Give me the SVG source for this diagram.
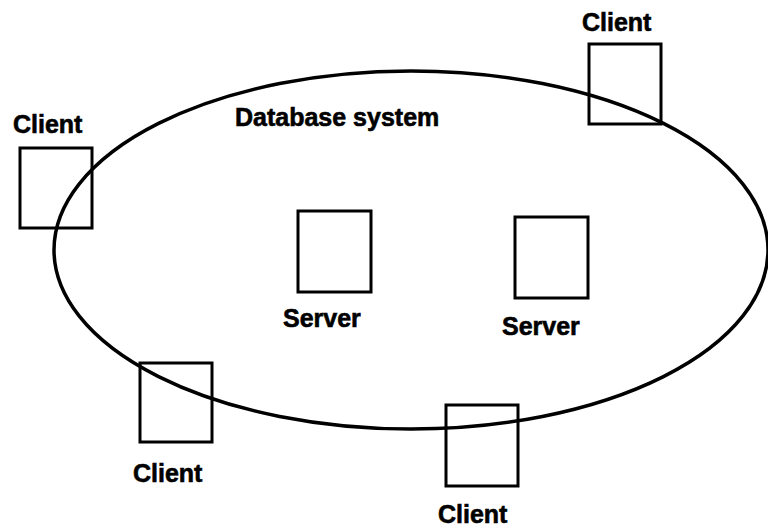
<svg xmlns="http://www.w3.org/2000/svg" width="768" height="532" viewBox="0 0 768 532">
<style>
.box{fill:none;stroke:#000;stroke-width:3}
.lbl{font-family:"Liberation Sans",Arial,sans-serif;font-weight:bold;font-size:25px;fill:#000;stroke:#000;stroke-width:0.6}
</style>
<rect width="768" height="532" fill="#fff"/>
<g id="database">
<ellipse cx="411" cy="250" rx="357" ry="179" fill="none" stroke="#000" stroke-width="3.5"/>
<text class="lbl" x="235" y="126" font-size="26.5">Database system</text>
</g>
<g id="server1">
<rect class="box" x="298" y="211" width="73" height="81"/>
<text class="lbl" x="283" y="327" font-size="26.5">Server</text>
</g>
<g id="server2">
<rect class="box" x="515" y="217" width="73" height="81"/>
<text class="lbl" x="502" y="335" font-size="26">Server</text>
</g>
<g id="client-topright">
<rect class="box" x="589" y="44" width="72" height="80"/>
<text class="lbl" x="582" y="31">Client</text>
</g>
<g id="client-left">
<rect class="box" x="20" y="148" width="72" height="80"/>
<text class="lbl" x="13" y="133">Client</text>
</g>
<g id="client-bottomleft">
<rect class="box" x="140" y="363" width="72" height="79"/>
<text class="lbl" x="133" y="482">Client</text>
</g>
<g id="client-bottom">
<rect class="box" x="446" y="405" width="72" height="81"/>
<text class="lbl" x="438" y="523">Client</text>
</g>
<g id="connectors"/>
</svg>
